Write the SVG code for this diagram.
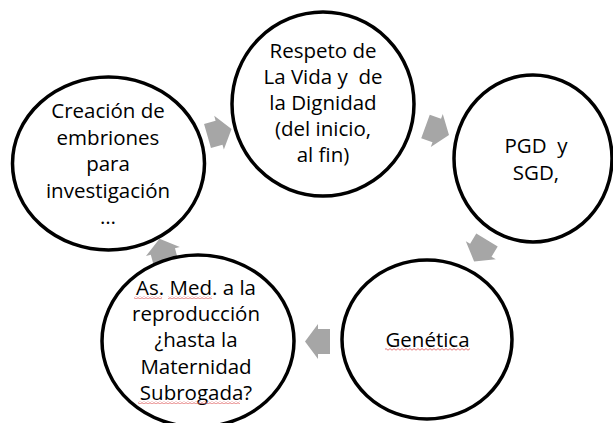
<svg xmlns="http://www.w3.org/2000/svg" width="613" height="423" viewBox="0 0 613 423">
  <style>
    .node ellipse { fill: #ffffff; stroke: #000000; stroke-width: 3.5; }
    .node text { font-family: "Open Sans", "Noto Sans", "Liberation Sans", sans-serif; font-size: 20.5px; fill: #000000; text-anchor: middle; }
    .arrow { fill: #A6A6A6; }
    .squig { fill: url(#sq); }
  </style>
  <defs>
    <path id="blk" d="M0,-12.5 L12,-12.5 L12,-17.5 L25,0 L12,17.5 L12,12.5 L0,12.5 Z"/>
    <pattern id="sq" width="4" height="3" patternUnits="userSpaceOnUse">
      <path d="M0,2.2 L2,0.6 L4,2.2" fill="none" stroke="#E06666" stroke-width="0.9"/>
    </pattern>
  </defs>
  <rect width="613" height="423" fill="#ffffff"/>

  <g id="connectors">
    <use href="#blk" class="arrow" transform="translate(207.5,136) rotate(-16)"/>
    <use href="#blk" class="arrow" transform="translate(425.5,126.4) rotate(20)"/>
    <use href="#blk" class="arrow" transform="translate(487,240) rotate(121)"/>
    <use href="#blk" class="arrow" transform="translate(330,341.5) rotate(180)"/>
    <use href="#blk" class="arrow" transform="translate(166,263) rotate(-105)"/>
  </g>

  <g id="node-respeto" class="node">
    <ellipse cx="323" cy="104" rx="91" ry="92"/>
    <text x="323" y="58">Respeto de</text>
    <text x="323" y="84" xml:space="preserve">La Vida y  de</text>
    <text x="323" y="110">la Dignidad</text>
    <text x="323" y="136">(del inicio,</text>
    <text x="323" y="162">al fin)</text>
  </g>

  <g id="node-pgd" class="node">
    <ellipse cx="533" cy="158.5" rx="79" ry="83.5"/>
    <text x="536" y="153" xml:space="preserve">PGD  y</text>
    <text x="536" y="180">SGD,</text>
  </g>

  <g id="node-genetica" class="node">
    <ellipse cx="427" cy="339.5" rx="85" ry="79.5"/>
    <text x="427.5" y="347">Genética</text>
    <rect class="squig" x="385" y="348" width="85" height="3"/>
  </g>

  <g id="node-asmed" class="node">
    <ellipse cx="198" cy="341" rx="96" ry="86"/>
    <text x="196" y="295">As. Med. a la</text>
    <text x="196" y="321">reproducción</text>
    <text x="196" y="347">¿hasta la</text>
    <text x="196" y="374">Maternidad</text>
    <text x="196" y="400">Subrogada?</text>
    <rect class="squig" x="134" y="296" width="28" height="3"/>
    <rect class="squig" x="168" y="296" width="44" height="3"/>
    <rect class="squig" x="138" y="401" width="102" height="3"/>
  </g>

  <g id="node-creacion" class="node">
    <ellipse cx="108.5" cy="163.5" rx="96" ry="86.5"/>
    <text x="108" y="118">Creación de</text>
    <text x="108" y="144.5">embriones</text>
    <text x="108" y="171">para</text>
    <text x="108" y="197.5">investigación</text>
    <text x="108" y="224">…</text>
  </g>
</svg>
